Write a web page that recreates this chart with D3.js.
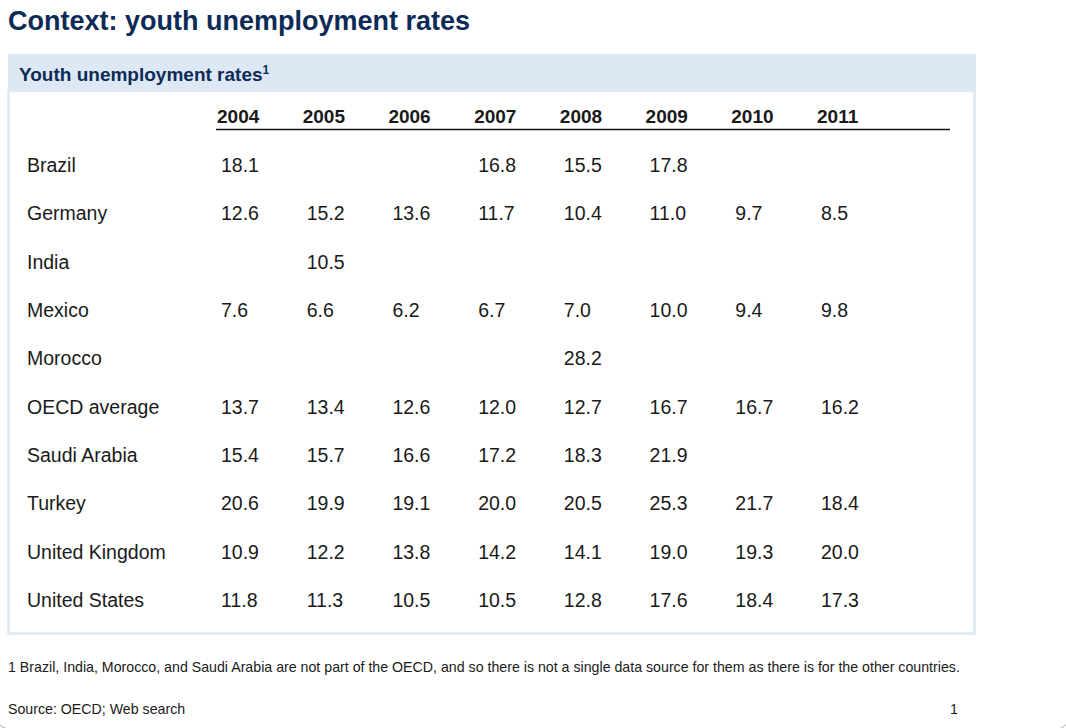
<!DOCTYPE html>
<html>
<head>
<meta charset="utf-8">
<script src="https://cdn.jsdelivr.net/npm/d3@7"></script>
<style>
  html, body { margin: 0; padding: 0; background: #fff; }
  svg { display: block; font-family: "Liberation Sans", Arial, sans-serif; }
</style>
</head>
<body>
<div id="chart"></div>
<script>
  // data
  var years = ['2004', '2005', '2006', '2007', '2008', '2009', '2010', '2011'];
  var countries = ['Brazil', 'Germany', 'India', 'Mexico', 'Morocco', 'OECD average',
                   'Saudi Arabia', 'Turkey', 'United Kingdom', 'United States'];

  var brazil        = [18.1, null, null, 16.8, 15.5, 17.8, null, null];
  var germany       = [12.6, 15.2, 13.6, 11.7, 10.4, 11.0, 9.7, 8.5];
  var india         = [null, 10.5, null, null, null, null, null, null];
  var mexico        = [7.6, 6.6, 6.2, 6.7, 7.0, 10.0, 9.4, 9.8];
  var morocco       = [null, null, null, null, 28.2, null, null, null];
  var oecdAverage   = [13.7, 13.4, 12.6, 12.0, 12.7, 16.7, 16.7, 16.2];
  var saudiArabia   = [15.4, 15.7, 16.6, 17.2, 18.3, 21.9, null, null];
  var turkey        = [20.6, 19.9, 19.1, 20.0, 20.5, 25.3, 21.7, 18.4];
  var unitedKingdom = [10.9, 12.2, 13.8, 14.2, 14.1, 19.0, 19.3, 20.0];
  var unitedStates  = [11.8, 11.3, 10.5, 10.5, 12.8, 17.6, 18.4, 17.3];

  var seriesValues = [brazil, germany, india, mexico, morocco, oecdAverage,
                      saudiArabia, turkey, unitedKingdom, unitedStates];

  var title = 'Context: youth unemployment rates';
  var subtitle = 'Youth unemployment rates';
  var footnote = '1 Brazil, India, Morocco, and Saudi Arabia are not part of the OECD, and so there is not a single data source for them as there is for the other countries.';
  var source = 'Source: OECD; Web search';

  var width = 1066, height = 728;
  var navy = '#0c2b57', panelBlue = '#dde8f4', ink = '#1a1a1a';

  var svg = d3.select('#chart')
      .append('svg')
      .attr('width', width)
      .attr('height', height);

  // slide outline (only its rounded corners show)
  svg.append('rect')
    .attr('x', -8).attr('y', -60)
    .attr('width', 1082).attr('height', 790)
    .attr('rx', 22)
    .style('fill', 'none')
    .style('stroke', '#a8a8a8')
    .style('stroke-width', 1);

  // title
  svg.append('text')
    .attr('x', 8)
    .attr('y', 30)
    .style('font-size', '27px')
    .style('font-weight', 'bold')
    .style('fill', navy)
    .text(title);

  // panel: header band + thin border
  svg.append('rect')
    .attr('x', 8).attr('y', 54)
    .attr('width', 968).attr('height', 38)
    .style('fill', panelBlue);

  svg.append('rect')
    .attr('x', 8.5).attr('y', 91)
    .attr('width', 966).attr('height', 542.5)
    .style('fill', 'none')
    .style('stroke', panelBlue)
    .style('stroke-width', 2.5);

  var sub = svg.append('text')
    .attr('x', 19)
    .attr('y', 81)
    .style('font-size', '19px')
    .style('font-weight', 'bold')
    .style('fill', navy);
  sub.append('tspan').text(subtitle);
  sub.append('tspan')
    .attr('dy', -7)
    .style('font-size', '12px')
    .text('1');

  // scales
  var x = d3.scalePoint()
      .domain(years)
      .range([221, 821]);

  var y = d3.scalePoint()
      .domain(countries)
      .range([172, 607]);

  // column headers
  svg.append('g')
    .selectAll('text')
    .data(years)
    .enter().append('text')
      .attr('x', function(d) { return x(d) - 4; })
      .attr('y', 123)
      .style('font-size', '19px')
      .style('font-weight', 'bold')
      .style('fill', ink)
      .text(function(d) { return d; });

  svg.append('line')
    .attr('x1', 216).attr('x2', 950)
    .attr('y1', 129.5).attr('y2', 129.5)
    .style('stroke', '#111')
    .style('stroke-width', 1.3);

  // rows
  var rows = svg.append('g')
    .selectAll('g')
    .data(countries)
    .enter().append('g')
      .attr('transform', function(d) { return 'translate(0,' + y(d) + ')'; });

  rows.append('text')
    .attr('x', 27)
    .style('font-size', '19.5px')
    .style('fill', ink)
    .text(function(d) { return d; });

  rows.selectAll('text.val')
    .data(function(d, i) {
      return seriesValues[i].map(function(v, j) { return { year: years[j], value: v }; })
        .filter(function(c) { return c.value !== null; });
    })
    .enter().append('text')
      .attr('class', 'val')
      .attr('x', function(c) { return x(c.year); })
      .style('font-size', '19.5px')
      .style('fill', ink)
      .text(function(c) { return d3.format('.1f')(c.value); });

  // footnote + source
  svg.append('text')
    .attr('x', 8)
    .attr('y', 672)
    .style('font-size', '14.2px')
    .style('fill', ink)
    .text(footnote);

  svg.append('text')
    .attr('x', 8)
    .attr('y', 714)
    .style('font-size', '14.2px')
    .style('fill', ink)
    .text(source);

  svg.append('text')
    .attr('x', 950)
    .attr('y', 714)
    .style('font-size', '14.2px')
    .style('fill', ink)
    .text('1');
</script>
</body>
</html>
